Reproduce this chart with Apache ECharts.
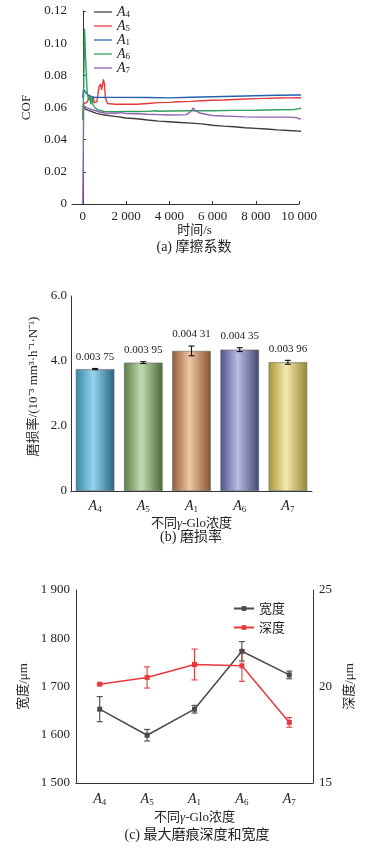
<!DOCTYPE html>
<html><head><meta charset="utf-8">
<script src="https://cdn.jsdelivr.net/npm/echarts@6/dist/echarts.min.js"></script>
<style>html,body{margin:0;padding:0;background:#fff}#c{width:382px;height:849px}</style>
</head><body><div id="c"></div>
<script>
// ---------- Panel (a) COF time series: [time s, COF] ----------
var cofA4 = [[0,0.061],[100,0.059],[300,0.058],[600,0.0565],[1000,0.0553],[1500,0.0545],[2000,0.0535],[2500,0.053],[3000,0.0522],[3500,0.0515],[4000,0.0511],[4500,0.0507],[5000,0.0503],[5500,0.0498],[6000,0.049],[6500,0.0484],[7000,0.048],[7500,0.0474],[8000,0.047],[8500,0.0466],[9000,0.0461],[9500,0.0457],[10000,0.0453],[10500,0.045]];
var cofA5 = [[0,0.055],[50,0.0625],[150,0.063],[250,0.0645],[330,0.0678],[380,0.063],[430,0.0625],[480,0.067],[530,0.063],[650,0.0635],[750,0.073],[820,0.0745],[870,0.071],[950,0.0775],[1000,0.0745],[1050,0.0655],[1150,0.0625],[1500,0.062],[2000,0.062],[2500,0.062],[3000,0.0625],[3500,0.063],[4000,0.0632],[4400,0.0636],[5000,0.0638],[5500,0.0642],[6000,0.0645],[6500,0.0647],[7000,0.065],[7500,0.0653],[8000,0.0655],[8500,0.0657],[9000,0.0659],[9500,0.066],[10000,0.0661],[10500,0.066]];
var cofA1 = [[0,0.066],[30,0.0712],[150,0.069],[300,0.0672],[450,0.0664],[1000,0.0663],[2000,0.0663],[3000,0.0662],[4000,0.066],[5000,0.0664],[6000,0.0667],[7000,0.067],[8000,0.0673],[9000,0.0676],[10000,0.0678],[10500,0.0678]];
var cofA6 = [[0,0.052],[40,0.07],[80,0.109],[130,0.09],[200,0.07],[260,0.0645],[320,0.067],[370,0.062],[420,0.066],[480,0.0615],[550,0.06],[700,0.0585],[1000,0.0575],[1500,0.0574],[2000,0.0576],[2500,0.0575],[3000,0.0576],[3400,0.058],[3500,0.0577],[4000,0.0578],[5000,0.058],[6000,0.058],[7000,0.0582],[8000,0.0583],[9000,0.0586],[9800,0.0588],[10100,0.0596],[10250,0.0588],[10500,0.0584]];
var cofA7 = [[0,0],[40,0.061],[200,0.0598],[400,0.0588],[700,0.0575],[1000,0.0566],[1500,0.0564],[1800,0.0568],[2000,0.0562],[2500,0.0561],[3000,0.0558],[3500,0.0556],[4000,0.0553],[4500,0.0554],[4800,0.0556],[5000,0.0575],[5100,0.0598],[5200,0.058],[5400,0.0566],[5800,0.0555],[6000,0.055],[6500,0.0547],[7000,0.0545],[7500,0.0542],[8000,0.054],[8500,0.054],[9000,0.054],[9500,0.054],[9900,0.0537],[10000,0.053],[10500,0.0527]];
var timeTicks = [0,2000,4000,6000,8000,10000];

// ---------- Panel (b) wear rate ----------
var groups = ['A4','A5','A1','A6','A7'];
var wearRate = [3.75, 3.95, 4.31, 4.35, 3.96];     // 10^-3 mm3/(h N)
var wearErr  = [0.02, 0.03, 0.15, 0.06, 0.06];
var wearLabels = ['0.003 75','0.003 95','0.004 31','0.004 35','0.003 96'];

// ---------- Panel (c) max wear scar width / depth ----------
var scarWidth = [1653, 1599, 1653, 1773, 1724];
var widthErr  = [26, 12, 8, 20, 8];
var scarDepth = [20.12, 20.47, 21.14, 21.07, 18.14];
var depthErr  = [0.05, 0.55, 0.8, 0.8, 0.25];

var SERIF = '"Liberation Serif","Times New Roman","Noto Sans CJK SC",serif';
var TXT = '#222';

var barColors = [
  ['#3a86a6','#94d4ec','#2a6482'],
  ['#5b7d42','#c2ddb3','#4a6a33'],
  ['#955c35','#f0c6a4','#87522c'],
  ['#50528a','#b9bee2','#43456f'],
  ['#a89436','#f3eaae','#988530']
];

var subRich = {
  i: {fontFamily: SERIF, fontStyle: 'italic', fontSize: 14, color: TXT},
  s: {fontFamily: SERIF, fontSize: 9, color: TXT, verticalAlign: 'bottom', padding: [7,0,0,0]}
};
var legRich = {
  i: {fontFamily: SERIF, fontStyle: 'italic', fontSize: 14, color: TXT},
  s: {fontFamily: SERIF, fontSize: 9, color: TXT, verticalAlign: 'bottom', padding: [5,0,0,0]}
};
function subFmt(n){ return '{i|A}{s|' + n.slice(1) + '}'; }
var nameRich = {
  n: {fontFamily: SERIF, fontSize: 13, color: TXT},
  g: {fontFamily: SERIF, fontSize: 13, color: TXT, fontStyle: 'italic'}
};

function errRender(params, api){
  var x = api.value(0), lo = api.value(1), hi = api.value(2);
  var p1 = api.coord([x, lo]), p2 = api.coord([x, hi]);
  var w = 3;
  var st = {stroke: api.visual('color'), lineWidth: 1.1};
  return {type: 'group', children: [
    {type: 'line', shape: {x1: p1[0], y1: p1[1], x2: p2[0], y2: p2[1]}, style: st},
    {type: 'line', shape: {x1: p1[0]-w, y1: p1[1], x2: p1[0]+w, y2: p1[1]}, style: st},
    {type: 'line', shape: {x1: p2[0]-w, y1: p2[1], x2: p2[0]+w, y2: p2[1]}, style: st}
  ]};
}
function errData(vals, errs){
  return vals.map(function(v,i){ return [i, v-errs[i], v+errs[i]]; });
}

var cofColors = {A4:'#3c3c3c', A5:'#e23a3c', A1:'#2262ae', A6:'#2f9e5e', A7:'#9262b2'};
function cofSeries(name, data){
  return {name: name, type: 'line', xAxisIndex: 0, yAxisIndex: 0, data: data, symbol: 'none',
    clip: false, lineStyle: {width: 1.4, color: cofColors[name]}, itemStyle: {color: cofColors[name]}, z: 3};
}

var axisLineS = {show: true, lineStyle: {color: '#333', width: 1}};
var tickLbl = {fontFamily: SERIF, fontSize: 13, color: TXT};

var option = {
  animation: false,
  backgroundColor: '#fff',
  grid: [
    {left: 72, top: 11, width: 227, height: 193},
    {left: 71, top: 296, width: 241, height: 195},
    {left: 76, top: 590, width: 237, height: 193}
  ],
  legend: [
    {left: 94, top: 5, padding: 0, orient: 'vertical', itemWidth: 18, itemHeight: 10, itemGap: 0,
     data: ['A4','A5','A1','A6','A7'], formatter: subFmt,
     textStyle: {rich: legRich, fontFamily: SERIF}, icon: 'path://M0,0L20,0L20,1.4L0,1.4Z'},
    {left: 233, top: 602, padding: 0, orient: 'vertical', itemWidth: 20, itemHeight: 6, itemGap: 6,
     data: ['宽度','深度'], textStyle: {fontFamily: '"Noto Sans CJK SC",sans-serif', fontSize: 13, color: TXT}}
  ],
  xAxis: [
    {gridIndex: 0, type: 'value', min: -500, max: 10000,
     axisLine: axisLineS, splitLine: {show: false},
     axisTick: {inside: true, length: 3, customValues: timeTicks, lineStyle: {color: '#333'}},
     axisLabel: Object.assign({customValues: timeTicks, margin: 6,
       formatter: function(v){ return v >= 1000 ? String(v).replace(/(\d)(?=(\d{3})+$)/g,'$1 ') : String(v); }}, tickLbl),
     name: '时间/s', nameLocation: 'middle', nameGap: 19,
     nameTextStyle: {fontFamily: SERIF, fontSize: 13, color: TXT, padding: [0,0,0,18]}},
    {gridIndex: 1, type: 'category', data: groups,
     axisLine: axisLineS, axisTick: {inside: true, alignWithLabel: true, interval: 0, length: 3, lineStyle: {color: '#333'}},
     axisLabel: {formatter: subFmt, rich: subRich, margin: 7, interval: 0},
     name: '{n|不同}{g|γ}{n|-Glo浓度}', nameLocation: 'middle', nameGap: 26,
     nameTextStyle: {rich: nameRich}},
    {gridIndex: 2, type: 'category', data: groups,
     axisLine: axisLineS, axisTick: {alignWithLabel: true, interval: 0, length: 3, lineStyle: {color: '#333'}},
     axisLabel: {formatter: subFmt, rich: subRich, margin: 8, interval: 0},
     name: '{n|不同}{g|γ}{n|-Glo浓度}', nameLocation: 'middle', nameGap: 28,
     nameTextStyle: {rich: nameRich}}
  ],
  yAxis: [
    {gridIndex: 0, type: 'value', min: 0, max: 0.12, interval: 0.02,
     axisLine: axisLineS, splitLine: {show: false},
     axisTick: {inside: true, length: 3, lineStyle: {color: '#333'}},
     axisLabel: Object.assign({margin: 5, formatter: function(v){ return v === 0 ? '0' : v.toFixed(2); }}, tickLbl),
     name: 'COF', nameLocation: 'middle', nameGap: 29, nameRotate: 90,
     nameTextStyle: {fontFamily: SERIF, fontSize: 13, color: TXT}},
    {gridIndex: 1, type: 'value', min: 0, max: 6, interval: 2,
     axisLine: axisLineS, splitLine: {show: false},
     axisTick: {length: 3, lineStyle: {color: '#333'}},
     axisLabel: Object.assign({margin: 4, formatter: function(v){ return v === 0 ? '0' : v.toFixed(1); }}, tickLbl),
     name: '磨损率/(10⁻³ mm³·h⁻¹·N⁻¹)', nameLocation: 'middle', nameGap: 20, nameRotate: 90,
     nameTextStyle: {fontFamily: SERIF, fontSize: 13, color: TXT, padding: [0,0,0,14]}},
    {gridIndex: 2, type: 'value', min: 1500, max: 1900, interval: 100, position: 'left',
     axisLine: axisLineS, splitLine: {show: false},
     axisTick: {inside: true, length: 3, lineStyle: {color: '#333'}},
     axisLabel: Object.assign({margin: 6, formatter: function(v){ return String(v).replace(/(\d)(?=(\d{3})$)/,'$1 '); }}, tickLbl),
     name: '宽度/μm', nameLocation: 'middle', nameGap: 35, nameRotate: 90,
     nameTextStyle: {fontFamily: SERIF, fontSize: 13, color: TXT}},
    {gridIndex: 2, type: 'value', min: 15, max: 25, interval: 5, position: 'right',
     axisLine: axisLineS, splitLine: {show: false},
     axisTick: {inside: true, length: 3, lineStyle: {color: '#333'}},
     axisLabel: Object.assign({margin: 6}, tickLbl),
     name: '深度/μm', nameLocation: 'middle', nameGap: 26, nameRotate: 90,
     nameTextStyle: {fontFamily: SERIF, fontSize: 13, color: TXT}}
  ],
  graphic: [
    {type: 'text', x: 194, y: 240, style: {text: '(a) 摩擦系数', font: '14px ' + SERIF, fill: TXT, align: 'center'}},
    {type: 'text', x: 191, y: 530, style: {text: '(b) 磨损率', font: '14px ' + SERIF, fill: TXT, align: 'center'}},
    {type: 'text', x: 197, y: 828, style: {text: '(c) 最大磨痕深度和宽度', font: '14px ' + SERIF, fill: TXT, align: 'center'}}
  ],
  series: [
    cofSeries('A4', cofA4), cofSeries('A5', cofA5), cofSeries('A1', cofA1),
    cofSeries('A6', cofA6), cofSeries('A7', cofA7),
    {type: 'bar', xAxisIndex: 1, yAxisIndex: 1, barWidth: '80%',
     data: wearRate.map(function(v,i){
       var c = barColors[i];
       return {value: v,
         itemStyle: {borderColor: '#666', borderWidth: 0.6,
           color: new echarts.graphic.LinearGradient(0,0,1,0,[{offset:0,color:c[0]},{offset:0.45,color:c[1]},{offset:1,color:c[2]}])},
         label: {show: true, position: 'top', distance: wearErr[i]*32.5 + 6, formatter: wearLabels[i],
           fontFamily: SERIF, fontSize: 11, color: TXT}};
     })},
    {type: 'custom', xAxisIndex: 1, yAxisIndex: 1, renderItem: errRender, itemStyle: {color: '#111'},
     data: errData(wearRate, wearErr), z: 5},
    {name: '宽度', type: 'line', xAxisIndex: 2, yAxisIndex: 2, data: scarWidth,
     symbol: 'rect', symbolSize: 5, lineStyle: {width: 1.5, color: '#4a4a4a'}, itemStyle: {color: '#4a4a4a'}, z: 4},
    {type: 'custom', xAxisIndex: 2, yAxisIndex: 2, renderItem: errRender, itemStyle: {color: '#4a4a4a'},
     data: errData(scarWidth, widthErr), z: 4},
    {name: '深度', type: 'line', xAxisIndex: 2, yAxisIndex: 3, data: scarDepth,
     symbol: 'rect', symbolSize: 5, lineStyle: {width: 1.5, color: '#e8393c'}, itemStyle: {color: '#e8393c'}, z: 4},
    {type: 'custom', xAxisIndex: 2, yAxisIndex: 3, renderItem: errRender, itemStyle: {color: '#e8393c'},
     data: errData(scarDepth, depthErr), z: 4}
  ]
};
var chart = echarts.init(document.getElementById('c'), null, {renderer: 'canvas'});
chart.setOption(option);
</script></body></html>
